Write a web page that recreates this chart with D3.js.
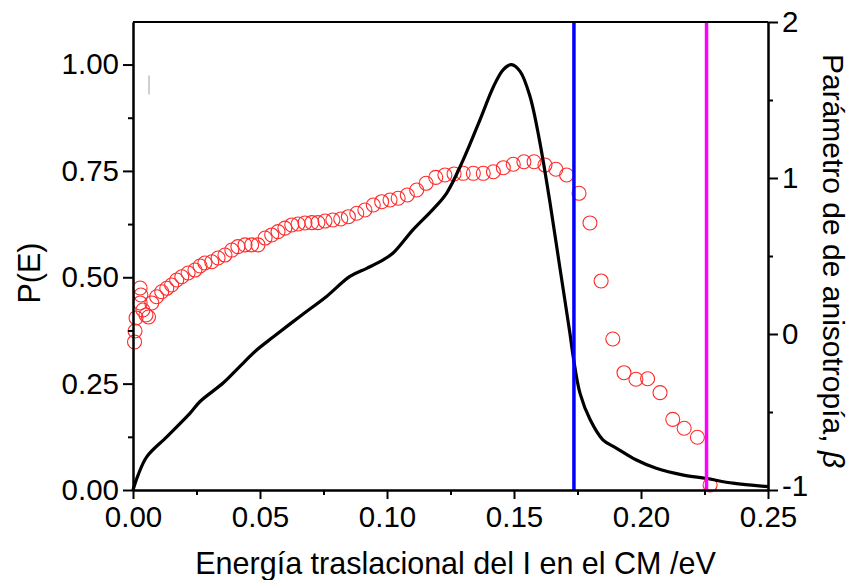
<!DOCTYPE html>
<html>
<head>
<meta charset="utf-8">
<script src="https://cdn.jsdelivr.net/npm/d3@7/dist/d3.min.js"></script>
<style>
  html, body { margin: 0; padding: 0; background: #fff; }
  svg { display: block; }
  text { font-family: "Liberation Sans", Arial, sans-serif; fill: #000; }
</style>
</head>
<body>
<svg id="chart" width="851" height="580"></svg>
<script>
// Translational energy distribution P(E) (left axis)
const peEnergy = [0, 0.002, 0.0054, 0.0133, 0.0224, 0.0264, 0.0356, 0.042, 0.0487, 0.0553,
  0.0657, 0.0762, 0.0854, 0.092, 0.0985, 0.1024, 0.1103, 0.118, 0.1235, 0.130,
  0.1366, 0.142, 0.1458, 0.149, 0.1524, 0.1563, 0.160, 0.164, 0.168, 0.172,
  0.1733, 0.176, 0.180, 0.185, 0.1904, 0.198, 0.206, 0.2167, 0.2258, 0.2362, 0.25];
const peValue = [0, 0.035, 0.078, 0.125, 0.18, 0.208, 0.252, 0.29, 0.329, 0.36,
  0.408, 0.455, 0.502, 0.521, 0.541, 0.557, 0.612, 0.659, 0.698, 0.776,
  0.870, 0.949, 0.988, 1.0, 0.984, 0.925, 0.823, 0.682, 0.525, 0.369,
  0.314, 0.227, 0.165, 0.118, 0.098, 0.071, 0.051, 0.035, 0.027, 0.016, 0.008];

// Anisotropy parameter beta (right axis)
const betaEnergy = [0.0006, 0.0008, 0.0012, 0.0028, 0.0031, 0.0028, 0.0039, 0.0051, 0.0061, 0.0074,
  0.0093, 0.0113, 0.0133, 0.0152, 0.0172, 0.0192, 0.0217, 0.0244, 0.0264, 0.0283,
  0.0310, 0.0335, 0.0362, 0.0389, 0.0413, 0.0441, 0.0467, 0.0492, 0.0520, 0.0546,
  0.0571, 0.0598, 0.0625, 0.0650, 0.0677, 0.0704, 0.0728, 0.0756, 0.0787, 0.0818,
  0.0848, 0.0881, 0.0913, 0.0946, 0.0979, 0.1012, 0.1044, 0.1080, 0.1117, 0.1154,
  0.1192, 0.1228, 0.1264, 0.1300, 0.1340, 0.1379, 0.1419, 0.1458, 0.1497, 0.1539,
  0.1579, 0.1622, 0.1665, 0.1707, 0.1756, 0.1799, 0.1843, 0.1889, 0.1933, 0.1980,
  0.2026, 0.2075, 0.2125, 0.2170, 0.2222, 0.2272];
const betaValue = [-0.051, 0.019, 0.103, 0.295, 0.25, 0.199, 0.154, 0.122, 0.109, 0.199,
  0.239, 0.271, 0.293, 0.314, 0.346, 0.367, 0.391, 0.410, 0.436, 0.455,
  0.463, 0.487, 0.506, 0.538, 0.560, 0.571, 0.571, 0.571, 0.615, 0.635,
  0.656, 0.679, 0.699, 0.705, 0.712, 0.714, 0.714, 0.724, 0.731, 0.737,
  0.752, 0.774, 0.795, 0.827, 0.848, 0.859, 0.870, 0.891, 0.923, 0.966,
  1.004, 1.019, 1.026, 1.030, 1.030, 1.030, 1.040, 1.066, 1.088, 1.104,
  1.104, 1.083, 1.056, 1.019, 0.902, 0.712, 0.340, -0.032, -0.248, -0.290,
  -0.287, -0.376, -0.547, -0.604, -0.662, -0.968];

// Energy thresholds marked by vertical lines
const thresholdEnergy = [0.1736, 0.2258];
const thresholdColor = ["#0000ff", "#ff00ff"];

// Tick values
const xMajor = [0, 0.05, 0.10, 0.15, 0.20, 0.25];
const xMinor = [0.025, 0.075, 0.125, 0.175, 0.225];
const yLeftMajor = [0, 0.25, 0.5, 0.75, 1.0];
const yLeftMinor = [0.125, 0.375, 0.625, 0.875];
const yRightMajor = [-1, 0, 1, 2];
const yRightMinor = [-0.5, 0.5, 1.5];

const xLabel = "Energía traslacional del I en el CM /eV";
const yLeftLabel = "P(E)";
const yRightLabel = "Parámetro de de anisotropía, ";

const svg = d3.select("#chart");
const margin = { left: 133, right: 83, top: 22, bottom: 90 };
const W = 851, H = 580;
const x0 = margin.left, x1 = W - margin.right, y0 = H - margin.bottom, y1 = margin.top;

const x = d3.scaleLinear().domain([0, 0.25]).range([x0, x1]);
const yL = d3.scaleLinear().domain([0, 1.1]).range([y0, y1]);
const yR = d3.scaleLinear().domain([-1, 2]).range([y0, y1]);

const tickFont = 29.5;
const titleFont = 30.5;

// beta points: open circles
const betaData = betaEnergy.map((e, i) => ({ e, b: betaValue[i] }));
svg.append("g").selectAll("circle").data(betaData).join("circle")
  .attr("cx", d => x(d.e))
  .attr("cy", d => yR(d.b))
  .attr("r", 7)
  .attr("fill", "none")
  .attr("stroke", "#ff2a2a")
  .attr("stroke-width", 1.1);

// P(E) curve
const peData = peEnergy.map((e, i) => ({ e, p: peValue[i] }));
svg.append("path").datum(peData)
  .attr("fill", "none")
  .attr("stroke", "#000")
  .attr("stroke-width", 3.2)
  .attr("stroke-linejoin", "round")
  .attr("d", d3.line().x(d => x(d.e)).y(d => yL(d.p)).curve(d3.curveCatmullRom.alpha(0.5)));

// threshold lines
svg.append("g").selectAll("line").data(thresholdEnergy).join("line")
  .attr("x1", d => x(d)).attr("x2", d => x(d))
  .attr("y1", y0).attr("y2", y1)
  .attr("stroke", (d, i) => thresholdColor[i])
  .attr("stroke-width", 3.5);

// faint mark near the top-left corner
svg.append("line")
  .attr("x1", 149).attr("x2", 149).attr("y1", 76).attr("y2", 94)
  .attr("stroke", "#c4c4c4").attr("stroke-width", 1.6).attr("stroke-linecap", "round");

function styleAxis(g) {
  g.selectAll("path.domain").attr("stroke", "#000").attr("stroke-width", 2);
  g.selectAll(".tick line").attr("stroke", "#000").attr("stroke-width", 2);
  g.selectAll("text").style("font-size", tickFont + "px")
    .style("font-family", '"Liberation Sans", Arial, sans-serif');
}

// top frame line
svg.append("line").attr("x1", x0).attr("x2", x1).attr("y1", y1).attr("y2", y1)
  .attr("stroke", "#000").attr("stroke-width", 2);

// bottom axis
svg.append("g").attr("transform", `translate(0,${y0})`)
  .call(d3.axisBottom(x).tickValues(xMinor).tickSize(5).tickSizeOuter(0).tickFormat(""))
  .call(styleAxis);
svg.append("g").attr("transform", `translate(0,${y0})`)
  .call(d3.axisBottom(x).tickValues(xMajor).tickSize(9).tickSizeOuter(0).tickPadding(7)
    .tickFormat(d3.format(".2f")))
  .call(styleAxis);

// left axis
svg.append("g").attr("transform", `translate(${x0},0)`)
  .call(d3.axisLeft(yL).tickValues(yLeftMinor).tickSize(5).tickSizeOuter(0).tickFormat(""))
  .call(styleAxis);
svg.append("g").attr("transform", `translate(${x0},0)`)
  .call(d3.axisLeft(yL).tickValues(yLeftMajor).tickSize(10).tickSizeOuter(0).tickPadding(4)
    .tickFormat(d3.format(".2f")))
  .call(styleAxis);

// right axis
svg.append("g").attr("transform", `translate(${x1},0)`)
  .call(d3.axisRight(yR).tickValues(yRightMinor).tickSize(5).tickSizeOuter(0).tickFormat(""))
  .call(styleAxis);
const rightAxis = svg.append("g").attr("transform", `translate(${x1},0)`)
  .call(d3.axisRight(yR).tickValues(yRightMajor).tickSize(10).tickSizeOuter(0).tickPadding(4)
    .tickFormat(d => String(d)))
  .call(styleAxis);
// lift the lowest label slightly so it clears the x tick label below it
rightAxis.selectAll(".tick text").filter(d => d === -1).attr("dy", "0.2em");

// axis titles
svg.append("text")
  .attr("x", (x0 + x1) / 2 + 5).attr("y", 574)
  .attr("text-anchor", "middle")
  .style("font-size", titleFont + "px")
  .text(xLabel);

svg.append("text")
  .attr("transform", `translate(40,${(y0 + y1) / 2 + 17}) rotate(-90)`)
  .attr("text-anchor", "middle")
  .style("font-size", titleFont + "px")
  .text(yLeftLabel);

const rt = svg.append("text")
  .attr("transform", `translate(823,${(y0 + y1) / 2 + 5}) rotate(90)`)
  .attr("text-anchor", "middle")
  .style("font-size", "30px");
rt.append("tspan").text(yRightLabel);
rt.append("tspan").style("font-style", "italic").text("β");
</script>
</body>
</html>
